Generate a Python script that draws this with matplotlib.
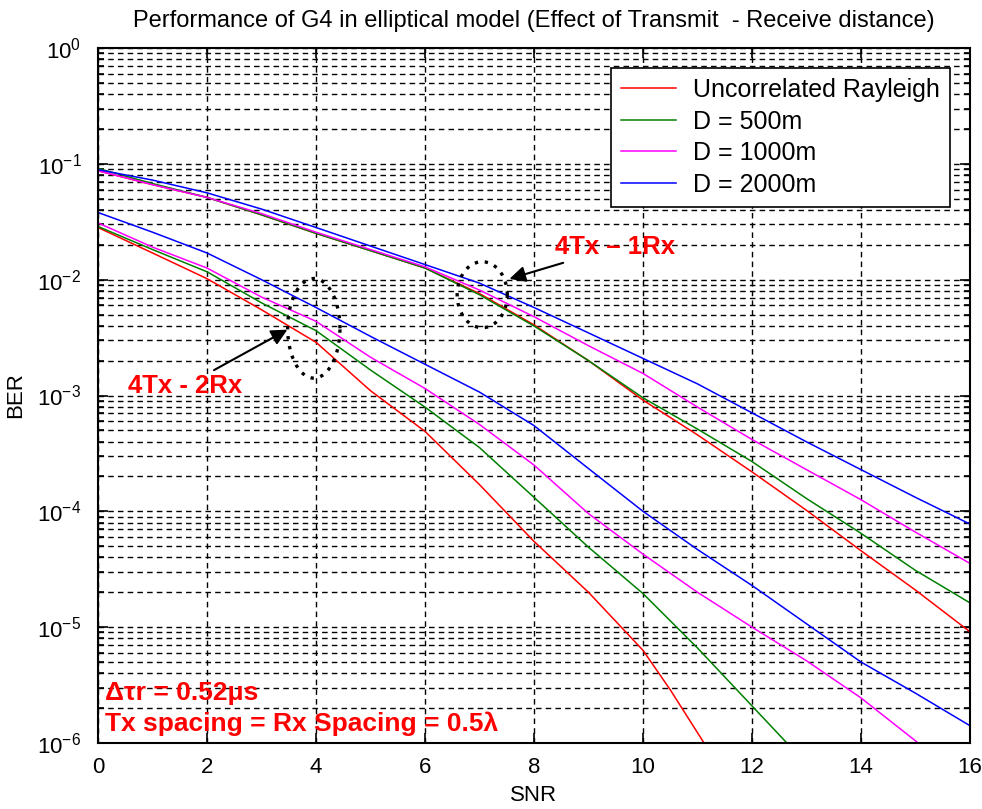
import numpy as np
import matplotlib
matplotlib.use("Agg")
import matplotlib.pyplot as plt
from matplotlib.ticker import FixedLocator, NullFormatter, LogFormatterSciNotation

plt.rcParams['font.family'] = ['Liberation Sans', 'DejaVu Sans']
plt.rcParams['mathtext.default'] = 'regular'
plt.rcParams['axes.unicode_minus'] = False

# ---------------- data ----------------
snr = list(range(0, 17))
labels = ["Uncorrelated Rayleigh", "D = 500m", "D = 1000m", "D = 2000m"]
colors = ["#ff0000", "#008000", "#ff00ff", "#0000ff"]

# 4Tx - 1Rx (BER)
ber_1rx_uncorr = [8.71e-2, 6.61e-2, 5.13e-2, 3.63e-2, 2.51e-2, 1.78e-2, 1.26e-2, 7.59e-3, 4.07e-3,
                  2.0e-3, 9.12e-4, 4.57e-4, 2.19e-4, 1.02e-4, 4.57e-5, 2.09e-5, 9.12e-6]
ber_1rx_500 = [9.12e-2, 6.76e-2, 5.13e-2, 3.63e-2, 2.51e-2, 1.78e-2, 1.26e-2, 7.41e-3, 3.98e-3,
               2.0e-3, 9.55e-4, 5.13e-4, 2.69e-4, 1.29e-4, 6.46e-5, 3.09e-5, 1.62e-5]
ber_1rx_1000 = [8.71e-2, 6.61e-2, 5.13e-2, 3.72e-2, 2.57e-2, 1.82e-2, 1.29e-2, 8.13e-3, 4.79e-3,
                2.69e-3, 1.55e-3, 7.94e-4, 4.17e-4, 2.29e-4, 1.26e-4, 6.61e-5, 3.55e-5]
ber_1rx_2000 = [8.91e-2, 7.24e-2, 5.62e-2, 4.07e-2, 2.82e-2, 1.95e-2, 1.35e-2, 9.33e-3, 5.75e-3,
                3.47e-3, 2.09e-3, 1.26e-3, 7.08e-4, 3.98e-4, 2.29e-4, 1.32e-4, 7.76e-5]

# 4Tx - 2Rx (BER); each curve runs until it leaves the axes at 1e-6
snr_2rx_uncorr = [0, 1, 2, 3, 4, 5, 6, 7, 8, 9, 10, 10.5, 11.12]
ber_2rx_uncorr = [2.82e-2, 1.70e-2, 1.02e-2, 5.50e-3, 2.88e-3, 1.10e-3, 4.90e-4, 1.70e-4, 5.50e-5,
                  2.0e-5, 6.31e-6, 2.88e-6, 1.0e-6]
snr_2rx_500 = [0, 1, 2, 3, 4, 5, 6, 7, 8, 9, 10, 11, 12, 12.64]
ber_2rx_500 = [2.88e-2, 1.82e-2, 1.17e-2, 6.31e-3, 3.63e-3, 1.66e-3, 7.94e-4, 3.55e-4, 1.32e-4,
               4.90e-5, 1.95e-5, 6.61e-6, 2.09e-6, 1.0e-6]
snr_2rx_1000 = [0, 1, 2, 3, 4, 5, 6, 7, 8, 9, 10, 11, 12, 13, 14, 15.05]
ber_2rx_1000 = [3.09e-2, 1.91e-2, 1.26e-2, 7.08e-3, 4.37e-3, 2.14e-3, 1.15e-3, 5.62e-4, 2.51e-4,
                9.55e-5, 4.27e-5, 2.0e-5, 1.0e-5, 5.13e-6, 2.45e-6, 1.0e-6]
snr_2rx_2000 = snr
ber_2rx_2000 = [3.80e-2, 2.57e-2, 1.70e-2, 1.0e-2, 5.75e-3, 3.24e-3, 1.86e-3, 1.07e-3, 5.50e-4,
                2.34e-4, 1.0e-4, 4.68e-5, 2.29e-5, 1.07e-5, 5.0e-6, 2.69e-6, 1.41e-6]

xticks = [0, 2, 4, 6, 8, 10, 12, 14, 16]
yticks = [1e-6, 1e-5, 1e-4, 1e-3, 1e-2, 1e-1, 1e0]
title = "Performance of G4 in elliptical model (Effect of Transmit  - Receive distance)"

# ---------------- figure ----------------
fig = plt.figure(figsize=(9.82, 8.09), dpi=100)
ax = fig.add_axes([98/982, 1-743/809, 872/982, 695/809])

one_rx = [ber_1rx_uncorr, ber_1rx_500, ber_1rx_1000, ber_1rx_2000]
two_rx = [(snr_2rx_uncorr, ber_2rx_uncorr), (snr_2rx_500, ber_2rx_500),
          (snr_2rx_1000, ber_2rx_1000), (snr_2rx_2000, ber_2rx_2000)]
for i in range(4):
    ax.semilogy(snr, one_rx[i], color=colors[i], lw=1.1, label=labels[i])
for i in range(4):
    ax.semilogy(two_rx[i][0], two_rx[i][1], color=colors[i], lw=1.1)

ax.set_xlim(0, 16)
ax.set_ylim(1e-6, 1)
ax.xaxis.set_major_locator(FixedLocator(xticks))
ax.yaxis.set_major_locator(FixedLocator(yticks))
ax.yaxis.set_major_formatter(LogFormatterSciNotation())
minor_y = [m * d for d in yticks[:-1] for m in range(2, 10)]
ax.yaxis.set_minor_locator(FixedLocator(minor_y))
ax.yaxis.set_minor_formatter(NullFormatter())

dash = (0, (4, 3))
ax.grid(True, which='major', axis='both', color='black', linestyle=dash, lw=1.0)
ax.grid(True, which='minor', axis='y', color='black', linestyle=dash, lw=1.0)
ax.set_axisbelow(True)

ax.tick_params(which='both', direction='in', top=True, right=True, labelsize=16, width=1.2)
ax.tick_params(which='major', length=7)
ax.tick_params(axis='x', which='major', pad=10)
ax.tick_params(axis='y', which='major', pad=12)
ax.tick_params(which='minor', length=4)
for s in ax.spines.values():
    s.set_linewidth(1.5)

ax.set_title(title, fontsize=17, pad=15)
ax.set_xlabel("SNR", fontsize=16, labelpad=5)
ax.set_ylabel("BER", fontsize=16, labelpad=8)

leg = ax.legend(loc='upper right', fontsize=18, fancybox=False, framealpha=1,
                edgecolor='black', handlelength=2.2, handletextpad=0.7,
                labelspacing=0.3, borderaxespad=0.8, borderpad=0.4)
leg.get_frame().set_linewidth(1.2)

# annotations
red = "#ff0000"
ax.annotate("4Tx \u2013 1Rx", xy=(7.5, 10**-2.0), xytext=(8.39, 10**-1.72),
            color=red, fontsize=18.5, fontweight='bold', ha='left', va='center',
            arrowprops=dict(arrowstyle='-|>', color='black', lw=1.5, mutation_scale=24))
ax.annotate("4Tx - 2Rx", xy=(3.52, 10**-2.42), xytext=(2.64, 10**-2.92),
            color=red, fontsize=18.5, fontweight='bold', ha='right', va='center',
            arrowprops=dict(arrowstyle='-|>', color='black', lw=1.5, mutation_scale=24))

t = np.linspace(0, 2*np.pi, 200)
for cx, cy, a, b in [(7.05, -2.13, 0.46, 0.285), (3.96, -2.42, 0.48, 0.43)]:
    ax.plot(cx + a*np.cos(t), 10**(cy + b*np.sin(t)), color='black', lw=2.4,
            linestyle=(0, (1, 2.0)))

ax.text(0.008, 0.072, "\u0394\u03c4r = 0.52\u03bcs", transform=ax.transAxes,
        color=red, fontsize=19, fontweight='bold', va='center', ha='left')
ax.text(0.008, 0.027, "Tx spacing = Rx Spacing = 0.5\u03bb", transform=ax.transAxes,
        color=red, fontsize=19, fontweight='bold', va='center', ha='left')

fig.savefig("out.png", dpi=100)
